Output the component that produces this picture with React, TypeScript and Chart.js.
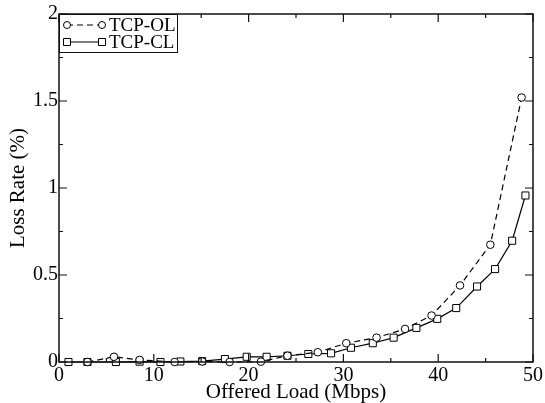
import React, { useEffect, useRef } from "react";
import { Chart, registerables } from "chart.js";

Chart.register(...registerables);

const seriesNames = ["TCP-OL", "TCP-CL"];

const olX = [3.0, 5.8, 8.5, 12.2, 15.1, 18.0, 21.3, 24.1, 27.3, 30.3, 33.5, 36.5, 39.3, 42.3, 45.5, 48.8];
const olY = [0, 0.03, 0.012, 0, 0.003, 0.0, 0.002, 0.036, 0.056, 0.108, 0.14, 0.19, 0.267, 0.44, 0.674, 1.52];

const clX = [1.0, 3.0, 6.0, 8.5, 10.7, 12.8, 15.1, 17.5, 19.8, 21.9, 24.1, 26.3, 28.7, 30.8, 33.1, 35.3, 37.7, 39.9, 41.9, 44.1, 46.0, 47.8, 49.2];
const clY = [0, 0, 0, 0.002, 0, 0.003, 0.005, 0.017, 0.03, 0.03, 0.036, 0.046, 0.05, 0.082, 0.108, 0.14, 0.196, 0.248, 0.31, 0.434, 0.534, 0.697, 0.957];

const xTitle = "Offered Load (Mbps)";
const yTitle = "Loss Rate (%)";

const FONT = "'Liberation Serif', 'Times New Roman', serif";

const framePlugin = {
  id: "frame",
  afterDraw(chart: any) {
    const ctx = chart.ctx;
    const { left, right, top, bottom } = chart.chartArea;
    const xs = chart.scales.x;
    const ys = chart.scales.y;
    ctx.save();
    ctx.strokeStyle = "#111";
    ctx.lineWidth = 1.5;
    ctx.strokeRect(left, top, right - left, bottom - top);
    ctx.lineWidth = 1.2;
    for (let v = 0; v <= 50; v += 5) {
      const px = xs.getPixelForValue(v);
      const len = v % 10 === 0 ? 8 : 4;
      ctx.beginPath();
      ctx.moveTo(px, bottom);
      ctx.lineTo(px, bottom - len);
      ctx.moveTo(px, top);
      ctx.lineTo(px, top + len);
      ctx.stroke();
    }
    for (let i = 0; i <= 8; i++) {
      const v = i * 0.25;
      const py = ys.getPixelForValue(v);
      const len = i % 2 === 0 ? 8 : 4;
      ctx.beginPath();
      ctx.moveTo(left, py);
      ctx.lineTo(left + len, py);
      ctx.moveTo(right, py);
      ctx.lineTo(right - len, py);
      ctx.stroke();
    }
    // legend
    const bx = left, by = top, bw = 118, bh = 38;
    ctx.fillStyle = "#fff";
    ctx.fillRect(bx, by, bw, bh);
    ctx.lineWidth = 1;
    ctx.strokeStyle = "#111";
    ctx.strokeRect(bx + 0.5, by + 0.5, bw, bh);
    const rows = [by + 11, by + 28];
    chart.data.datasets.forEach((ds: any, i: number) => {
      const ry = rows[i];
      const x1 = bx + 8, x2 = bx + 43;
      ctx.save();
      ctx.strokeStyle = "#000";
      ctx.lineWidth = 1.2;
      ctx.setLineDash(ds.borderDash || []);
      ctx.beginPath();
      ctx.moveTo(x1, ry);
      ctx.lineTo(x2, ry);
      ctx.stroke();
      ctx.restore();
      [x1, x2].forEach((mx) => {
        ctx.save();
        ctx.fillStyle = "#fff";
        ctx.strokeStyle = "#000";
        ctx.lineWidth = 1;
        ctx.beginPath();
        if (ds.pointStyle === "rect") {
          ctx.rect(mx - 3.5, ry - 3.5, 7, 7);
        } else {
          ctx.arc(mx, ry, 3.5, 0, Math.PI * 2);
        }
        ctx.fill();
        ctx.stroke();
        ctx.restore();
      });
      ctx.fillStyle = "#000";
      ctx.font = `19px ${FONT}`;
      ctx.textBaseline = "middle";
      ctx.textAlign = "left";
      ctx.fillText(ds.label, bx + 50, ry + 1);
    });
    ctx.restore();
  },
};

export default function App() {
  const ref = useRef<HTMLCanvasElement>(null);
  useEffect(() => {
    document.body.style.margin = "0";
    const chart = new Chart(ref.current!, {
      type: "line",
      data: {
        datasets: [
          {
            label: seriesNames[0],
            data: olX.map((x, i) => ({ x, y: olY[i] })),
            borderColor: "#000",
            borderWidth: 1.2,
            borderDash: [6, 4],
            pointStyle: "circle",
            pointRadius: 3.8,
            pointBorderWidth: 1,
            pointBackgroundColor: "#fff",
            pointBorderColor: "#000",
            fill: false,
            clip: false,
          } as any,
          {
            label: seriesNames[1],
            data: clX.map((x, i) => ({ x, y: clY[i] })),
            borderColor: "#000",
            borderWidth: 1.2,
            pointStyle: "rect",
            pointRadius: 5,
            pointBorderWidth: 1,
            pointBackgroundColor: "#fff",
            pointBorderColor: "#000",
            fill: false,
            clip: false,
          } as any,
        ],
      },
      options: {
        animation: false,
        responsive: false,
        layout: { padding: { left: 0, top: 14, right: 11, bottom: 0 } },
        plugins: { legend: { display: false }, tooltip: { enabled: false } },
        scales: {
          x: {
            type: "linear",
            min: 0,
            max: 50,
            grid: { display: false, drawTicks: false, tickLength: 0 },
            border: { display: false },
            ticks: { stepSize: 10, color: "#000", padding: 2, maxRotation: 0, font: { family: FONT, size: 20 } },
            title: { display: true, text: xTitle, color: "#000", padding: { top: 0, bottom: -2 }, font: { family: FONT, size: 21 } },
            afterFit: (s: any) => { s.height = 41; },
          },
          y: {
            min: 0,
            max: 2,
            grid: { display: false, drawTicks: false, tickLength: 0 },
            border: { display: false },
            ticks: {
              stepSize: 0.5,
              color: "#000",
              padding: 1,
              font: { family: FONT, size: 20 },
              callback: (v: any) => String(v),
            },
            title: { display: true, text: yTitle, color: "#000", padding: { top: 6, bottom: 0 }, font: { family: FONT, size: 21 } },
            afterFit: (s: any) => { s.width = 59; },
          },
        },
      },
      plugins: [framePlugin],
    });
    return () => chart.destroy();
  }, []);
  return (
    <div style={{ position: "absolute", left: 0, top: 0, width: 545, height: 403 }}>
      <canvas ref={ref} width={545} height={403} style={{ width: 545, height: 403, display: "block" }} />
    </div>
  );
}
